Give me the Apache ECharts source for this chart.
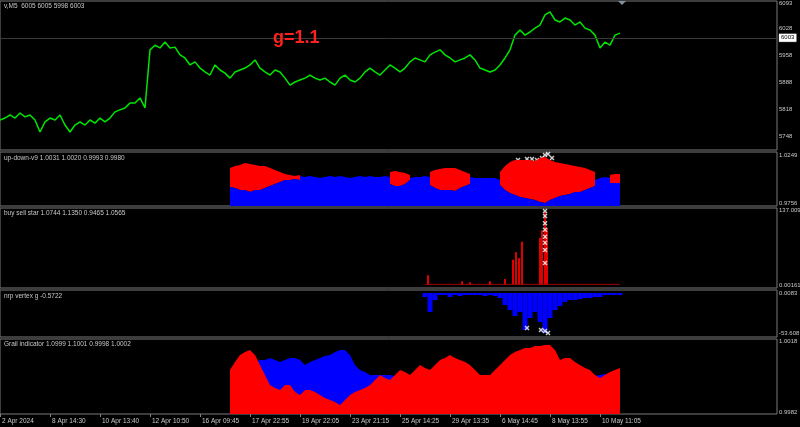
<!DOCTYPE html>
<html><head><meta charset="utf-8">
<script src="https://cdn.jsdelivr.net/npm/echarts@6/dist/echarts.min.js"></script>
<style>html,body{margin:0;padding:0;background:#000;}#c{width:800px;height:427px;}</style>
</head><body><div id="c"></div>
<script>
// ---------- DATA ----------
const tickLabels = ['2 Apr 2024','8 Apr 14:30','10 Apr 13:40','12 Apr 10:50','16 Apr 09:45','17 Apr 22:55','19 Apr 22:05','23 Apr 21:15','25 Apr 14:25','29 Apr 13:35','6 May 14:45','8 May 13:55','10 May 11:05'];
const priceTicks = [6093, 6028, 5958, 5888, 5818, 5748];
const udTicks = [1.0249, 0.9756];
const bsTicks = [137.009, 0.00161];
const nrpTicks = [0.0083, -53.608];
const grailTicks = [1.0018, 0.9982];
const currentPrice = 6003;

// price, one value per slot starting at slot 0
const price = [5791,5796,5804,5796,5809,5799,5804,5791,5760,5786,
5796,5791,5804,5778,5760,5778,5786,5778,5791,5783,
5796,5786,5796,5812,5817,5822,5835,5835,5848,5822,
5972,5984,5977,5992,5977,5979,5959,5951,5933,5941,
5925,5915,5907,5933,5920,5912,5899,5915,5920,5925,
5933,5946,5925,5915,5907,5920,5915,5899,5881,5889,
5894,5899,5907,5899,5894,5899,5889,5881,5899,5907,
5894,5889,5899,5915,5925,5915,5907,5920,5933,5925,
5915,5925,5941,5951,5946,5941,5959,5966,5972,5959,
5951,5941,5946,5951,5959,5946,5925,5920,5915,5920,
5933,5951,5972,6010,6023,6010,6018,6028,6036,6062,
6070,6049,6044,6054,6049,6036,6044,6028,6023,6010,
5977,5992,5984,6010,6015];

// up-down-v9, starting at slot 46
const udStart = 46;
const udBlue = [0.9961,0.9961,0.9972,0.9972,0.9992,0.9982,0.9992,0.9982,0.9992,1.0013,
1.0033,1.0044,1.0033,1.0023,1.0033,1.0023,1.0033,1.0023,1.0013,1.0023,
1.0033,1.0023,1.0033,1.0023,1.0013,1.0023,1.0033,1.0023,1.0033,1.0023,
1.0023,1.0033,1.0023,1.0033,1.0023,1.0023,1.0013,1.0023,1.0023,1.0033,
1.0023,1.0033,1.0033,1.0033,1.0023,1.0033,1.0033,1.0023,1.0023,1.0013,
1.0013,1.0013,1.0013,1.0013,0.9992,0.9972,0.9941,0.9910,0.9890,0.9869,
0.9869,0.9869,0.9838,0.9828,0.9849,0.9869,0.9890,0.9890,0.9910,0.9931,
0.9941,0.9961,0.9972,0.9992,1.0013,1.0023,1.0013,1.0023,1.0023];
const udRedHi = [1.0115,1.0136,1.0146,1.0167,1.0157,1.0146,1.0136,1.0136,1.0115,1.0095,
1.0074,1.0054,1.0044,1.0033,1.0044,null,null,null,null,null,
null,null,null,null,null,null,null,null,null,null,
null,null,1.0074,1.0085,1.0074,1.0064,1.0044,null,null,null,
1.0074,1.0095,1.0105,1.0115,1.0115,1.0115,1.0095,1.0074,1.0054,null,
null,null,null,null,1.0074,1.0136,1.0177,1.0198,1.0198,1.0198,
1.0198,1.0187,1.0218,1.0228,1.0198,1.0177,1.0167,1.0157,1.0146,1.0136,
1.0126,1.0115,1.0095,1.0074,null,null,1.0044,1.0054,1.0054];
const udRedLo = [0.9920,0.9910,0.9890,0.9890,0.9869,0.9890,0.9890,0.9910,0.9931,0.9951,
0.9972,0.9992,0.9992,1.0003,0.9992,null,null,null,null,null,
null,null,null,null,null,null,null,null,null,null,
null,null,0.9951,0.9931,0.9931,0.9951,0.9992,null,null,null,
0.9941,0.9910,0.9890,0.9890,0.9890,0.9879,0.9910,0.9931,0.9951,null,
null,null,null,null,0.9941,0.9890,0.9859,0.9838,0.9818,0.9807,
0.9797,0.9787,0.9766,0.9756,0.9787,0.9807,0.9828,0.9838,0.9849,0.9869,
0.9869,0.9890,0.9910,0.9931,null,null,0.9961,0.9961,0.9961];
const udStars = [[103.6,1.0198],[105.4,1.0208],[106.4,1.0208],[107.4,1.0198],[108.4,1.0218],[109,1.0249],[109.6,1.0259],[110.4,1.0218]];

// buy sell star
const bsStart = 85;
const bsBase = [1.2,1.2,1.2,1.2,1.2,1.2,1.2,1.2,1.2,1.2,1.2,1.2,1.2,1.2,1.2,1.2,1.2,1.2,1.2,1.2,
1.2,1.2,1.2,1.2,1.2,1.2,1.2,1.2,1.2,1.2,1.2,1.2,1.2,1.2,1.2,1.2,1.2,1.2,1.2,1.2];
const bsSpikes = [[85.6,18],[92.4,7],[94,5],[98,7],[101,11],[102.6,46],[103.2,60],[103.8,49],[104.4,79],[108,86],[108.4,100],[109,133],[109.4,104]];
const bsStars = [[109,135],[109,126],[109,113],[109,101],[109,88],[109,77],[109,64],[109,40]];

// nrp vertex g
const nrpStart = 85;
const nrp = [-5.4,-25.5,-9.4,-2.7,-2.7,-5.4,-2.7,-4.0,-2.7,-2.7,-2.7,-2.7,-4.0,-2.7,-4.0,-6.7,-16.1,-22.8,-30.8,-25.5,
-49.6,-33.5,-25.5,-38.9,-53.6,-33.5,-22.8,-17.4,-12.1,-9.4,-9.4,-8.0,-6.7,-6.7,-5.4,-5.4,-2.7,-2.7,-2.7,-2.7];
const nrpStars = [[105.4,-46.9],[108.2,-49.6],[109,-50.9],[109.6,-53.6]];

// Grail indicator, starting at slot 46
const grailStart = 46;
const grailRed = [1.00033,1.00074,1.00109,1.00124,1.00134,1.00109,1.00058,1.00008,0.99957,0.99942,
0.99932,0.99957,0.99957,0.99921,0.99906,0.99932,0.99932,0.99921,0.99906,0.99891,
0.99881,0.99871,0.99856,0.99881,0.99906,0.99921,0.99932,0.99942,0.99957,0.99982,
1.00008,0.99992,0.99982,1.00008,1.00033,1.00023,1.00008,1.00033,1.00058,1.00043,
1.00033,1.00058,1.00084,1.00094,1.00109,1.00094,1.00084,1.00074,1.00058,1.00033,
1.00008,1.00008,1.00008,1.00033,1.00058,1.00084,1.00109,1.00124,1.00134,1.00145,
1.00145,1.00155,1.00155,1.00160,1.00160,1.00134,1.00084,1.00094,1.00094,1.00074,
1.00058,1.00043,1.00033,1.00008,0.99992,1.00008,1.00023,1.00033,1.00043];
const grailBlue = [1.00023,1.00033,1.00043,1.00058,1.00058,1.00074,1.00084,1.00084,1.00094,1.00084,
1.00074,1.00084,1.00094,1.00094,1.00084,1.00058,1.00074,1.00084,1.00094,1.00104,
1.00109,1.00124,1.00134,1.00134,1.00109,1.00058,1.00033,1.00023,1.00008,1.00008,
1.00008,1.00008,1.00008,1.00003,0.99992,0.99982,0.99972,0.99982,0.99992,0.99982,
0.99972,0.99982,0.99992,0.99992,0.99982,0.99972,0.99957,0.99957,0.99957,0.99957,
0.99972,0.99982,0.99992,0.99992,0.99982,0.99972,0.99957,0.99942,0.99932,0.99921,
0.99906,0.99906,0.99891,0.99891,0.99891,0.99906,0.99921,0.99932,0.99942,0.99957,
0.99972,0.99982,0.99992,1.00003,1.00008,1.00013,1.00003,0.99992,0.99992];

// ---------- CHART ----------
const SLOTS = 155.4;
const FONT = 'Liberation Sans';
const LBL = '#c8c8c8';
const pts = (start, arr) => arr.map((v, i) => [start + i, v]);
const udBlueUnder = udRedLo.map((lo, i) => lo == null ? null : Math.min(lo, udBlue[i]));

const panes = [
  {top: 1, height: 149, min: 5713.6, max: 6098, ticks: priceTicks},
  {top: 152, height: 54, min: 0.9725, max: 1.0280, ticks: udTicks},
  {top: 208, height: 80, min: -5.5, max: 140.7, ticks: bsTicks},
  {top: 290, height: 47, min: -58.97, max: 4.03, ticks: nrpTicks},
  {top: 339, height: 75, min: 0.99810, max: 1.00190, ticks: grailTicks}
];
const grids = panes.map(p => ({left: 0, right: 23, top: p.top, height: p.height, outerBoundsMode: 'none', containLabel: false, show: true, borderColor: '#7a7a7a', borderWidth: 1, backgroundColor: '#000'}));
const xAxes = panes.map((p, i) => ({
  type: 'value', gridIndex: i, min: 0, max: SLOTS,
  splitLine: {show: false}, axisLine: {show: false},
  axisTick: {show: i === 4, length: 3, lineStyle: {color: '#808080'}, customValues: tickLabels.map((_, k) => k * 10)},
  axisLabel: {show: i === 4, color: LBL, fontSize: 6.5, fontFamily: FONT, align: 'left', margin: 4, padding: [0, 0, 0, 2],
    customValues: tickLabels.map((_, k) => k * 10), formatter: v => tickLabels[Math.round(v / 10)] || ''}
}));
const yAxes = panes.map((p, i) => ({
  type: 'value', gridIndex: i, position: 'right', min: p.min, max: p.max, scale: true,
  splitLine: {show: false}, axisLine: {show: false}, axisTick: {show: false},
  axisLabel: {color: LBL, fontSize: 6, fontFamily: FONT, margin: 2, customValues: p.ticks, formatter: v => String(v)}
}));
const xShape = 'path://M2,0L5,3L8,0L10,2L7,5L10,8L8,10L5,7L2,10L0,8L3,5L0,2Z';
const area = (xi, start, arr, color) => ({type: 'line', xAxisIndex: xi, yAxisIndex: xi, data: pts(start, arr), showSymbol: false,
  lineStyle: {width: 0}, areaStyle: {color: color, opacity: 1, origin: 'start'}});

const series = [
  {type: 'line', xAxisIndex: 0, yAxisIndex: 0, data: pts(0, price), showSymbol: false, lineStyle: {color: '#00e600', width: 1.5}, itemStyle: {color: '#00e600'},
   markLine: {silent: true, symbol: 'none', data: [{yAxis: currentPrice}], lineStyle: {color: '#3a3a3a', type: 'solid', width: 1},
     label: {position: 'end', formatter: String(currentPrice), color: '#000', backgroundColor: '#fff', borderColor: '#444', borderWidth: 0.5, fontSize: 6, fontFamily: FONT, padding: [1, 2], distance: 2}}},
  area(1, udStart, udBlue, '#0000ff'),
  area(1, udStart, udRedHi, '#ff0000'),
  area(1, udStart, udRedLo, '#000000'),
  area(1, udStart, udBlueUnder, '#0000ff'),
  {type: 'scatter', xAxisIndex: 1, yAxisIndex: 1, data: udStars, symbol: xShape, symbolSize: 5, itemStyle: {color: '#fff'}},
  {type: 'line', xAxisIndex: 2, yAxisIndex: 2, data: pts(bsStart, bsBase), showSymbol: false, lineStyle: {color: '#a00000', width: 1}},
  {type: 'bar', xAxisIndex: 2, yAxisIndex: 2, data: bsSpikes, barWidth: 2, itemStyle: {color: '#e00000'}},
  {type: 'scatter', xAxisIndex: 2, yAxisIndex: 2, data: bsStars, symbol: xShape, symbolSize: 5, itemStyle: {color: '#fff'}},
  {type: 'bar', xAxisIndex: 3, yAxisIndex: 3, data: pts(nrpStart, nrp), barWidth: 5, itemStyle: {color: '#0000ff'}},
  {type: 'scatter', xAxisIndex: 3, yAxisIndex: 3, data: nrpStars, symbol: xShape, symbolSize: 5, itemStyle: {color: '#fff'}},
  area(4, grailStart, grailBlue, '#0000ff'),
  area(4, grailStart, grailRed, '#ff0000')
];

const tStyle = {color: LBL, fontSize: 6.5, fontWeight: 'normal', fontFamily: FONT};
const titles = [
  {text: 'v,M5  6005 6005 5998 6003', left: 4, top: 3},
  {text: 'up-down-v9 1.0031 1.0020 0.9993 0.9980', left: 4, top: 155},
  {text: 'buy sell star 1.0744 1.1350 0.9465 1.0565', left: 4, top: 210},
  {text: 'nrp vertex g -0.5722', left: 4, top: 293},
  {text: 'Grail indicator 1.0999 1.1001 0.9998 1.0002', left: 4, top: 341}
].map(t => Object.assign({padding: 0, textStyle: tStyle}, t));
titles.push({text: 'g=1.1', left: 273, top: 29, padding: 0, textStyle: {color: '#ff2020', fontSize: 18, fontWeight: 'bold', fontFamily: FONT}});

const chart = echarts.init(document.getElementById('c'), null, {renderer: 'canvas'});
chart.setOption({
  backgroundColor: '#000', animation: false,
  title: titles, grid: grids, xAxis: xAxes, yAxis: yAxes, series,
  graphic: [{type: 'polygon', shape: {points: [[618, 1], [626, 1], [622, 5]]}, style: {fill: '#8090a0'}}]
});
</script></body></html>
